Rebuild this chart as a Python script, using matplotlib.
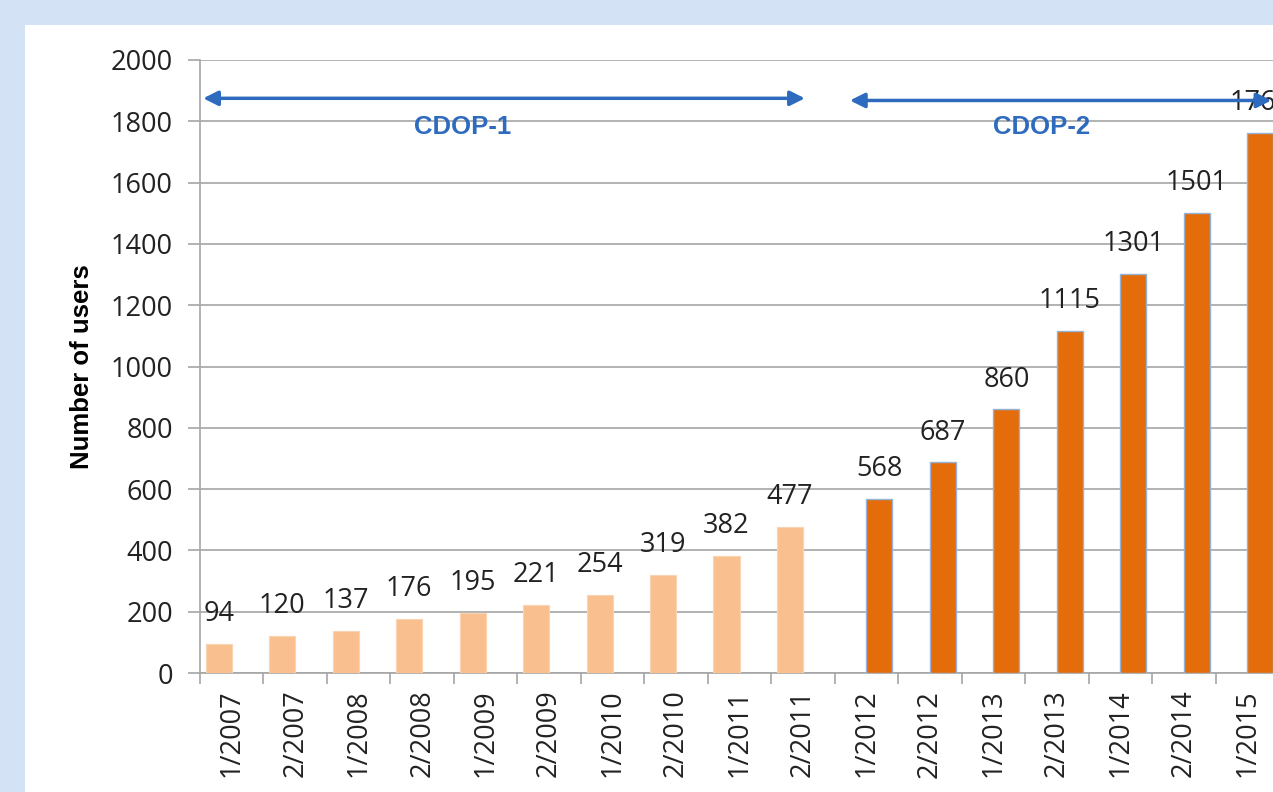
import matplotlib.pyplot as plt
from matplotlib.patches import Rectangle

periods = ["1/2007", "2/2007", "1/2008", "2/2008", "1/2009", "2/2009", "1/2010",
           "2/2010", "1/2011", "2/2011", "1/2012", "2/2012", "1/2013", "2/2013",
           "1/2014", "2/2014", "1/2015"]
cdop1_users = [94, 120, 137, 176, 195, 221, 254, 319, 382, 477]
cdop2_users = [568, 687, 860, 1115, 1301, 1501, 1762]
yticks = [0, 200, 400, 600, 800, 1000, 1200, 1400, 1600, 1800, 2000]

W, H = 1273, 792
fig = plt.figure(figsize=(W / 100, H / 100), dpi=100)
fig.patch.set_facecolor("#D3E2F5")
fig.patches.append(Rectangle((25 / W, 0), 1, 1 - 25 / H, transform=fig.transFigure,
                             facecolor="white", edgecolor="none", zorder=-5))

left, right, top, bottom = 200, 1279, 60, 673
ax = fig.add_axes([left / W, 1 - bottom / H, (right - left) / W, (bottom - top) / H])
ax.set_facecolor("none")
ax.set_zorder(2)

# clustered bars: CDOP-1 series on the left half, CDOP-2 on the right half
bw = 0.41
x1 = [i - bw / 2 for i in range(len(cdop1_users))]
x2 = [len(cdop1_users) + i + bw / 2 for i in range(len(cdop2_users))]
ax.bar(x1, cdop1_users, width=bw, color="#F9BF8F", edgecolor="#FAD3B2", linewidth=0.8, zorder=3)
ax.bar(x2, cdop2_users, width=bw, color="#E46C0A", edgecolor="#95B3D7", linewidth=1, zorder=3)

lab = dict(ha="center", va="center", fontsize=19.5, color="#222222", family="Open Sans",
           textcoords="offset points", xytext=(0, 21.5), annotation_clip=False, zorder=4)
for xv, v in zip(x1 + x2, cdop1_users + cdop2_users):
    ax.annotate(str(v), (xv, v), **lab)

ax.set_xlim(-0.5, len(periods) - 0.5)
ax.set_ylim(0, 2000)
ax.set_yticks(yticks)
ax.set_yticklabels([str(t) for t in yticks], fontsize=19.5, family="Open Sans", color="#222222")
ax.yaxis.grid(True, color="#A6A6A6", linewidth=1.2, zorder=0)
ax.tick_params(axis="y", length=8.6, color="#A6A6A6", width=1.2, pad=11)

ax.set_xticks(range(len(periods)))
ax.set_xticklabels(periods, rotation=90, fontsize=19.5, family="Open Sans", color="#222222")
ax.set_xticks([i - 0.5 for i in range(len(periods) + 1)], minor=True)
ax.tick_params(axis="x", which="major", length=0, pad=12)
ax.tick_params(axis="x", which="minor", length=8, color="#A6A6A6", width=1.2)

for s in ["top", "right"]:
    ax.spines[s].set_visible(False)
for s in ["left", "bottom"]:
    ax.spines[s].set_color("#A6A6A6")
    ax.spines[s].set_linewidth(1.2)

ax.set_ylabel("Number of users", fontsize=18.5, fontweight="bold", family="Liberation Sans",
              labelpad=12)

arrow_kw = dict(arrowstyle="<|-|>", color="#2E6BBF", lw=2.5, mutation_scale=22,
                shrinkA=0, shrinkB=0)
ax.annotate("", xy=(-0.45, 1875), xytext=(9.03, 1875), arrowprops=arrow_kw,
            annotation_clip=False, zorder=5)
ax.annotate("", xy=(9.74, 1868), xytext=(16.38, 1868), arrowprops=arrow_kw,
            annotation_clip=False, zorder=5)
ax.text(3.63, 1780, "CDOP-1", color="#2E6BBF", fontsize=18.5, fontweight="bold",
        family="Liberation Sans", ha="center", va="center")
ax.text(12.76, 1780, "CDOP-2", color="#2E6BBF", fontsize=18.5, fontweight="bold",
        family="Liberation Sans", ha="center", va="center")

fig.savefig("out.png", dpi=100, facecolor=fig.get_facecolor())
